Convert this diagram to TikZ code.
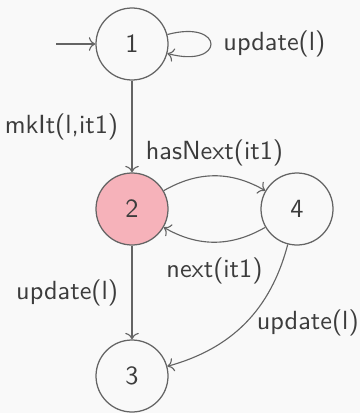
\documentclass[tikz,border=0pt]{standalone}
\usetikzlibrary{arrows.meta}
\definecolor{bgc}{RGB}{249,249,249}
\definecolor{pinkfill}{RGB}{246,178,186}
\definecolor{linec}{RGB}{100,100,100}
\definecolor{textc}{RGB}{60,60,60}
\tikzset{
  state/.style={circle,draw=linec,line width=0.5pt,minimum size=28.8pt,inner sep=0pt,text=textc,font=\sffamily\fontsize{10.5}{12}\selectfont},
  conn/.style={->,draw=linec,line width=0.45pt},
  lbl/.style={text=textc,font=\sffamily\fontsize{10.5}{12}\selectfont}
}
\begin{document}
\begin{tikzpicture}[x=0.4pt,y=-0.4pt]
\fill[bgc] (0,0) rectangle (360,413);
\useasboundingbox (0,0) rectangle (360,413);
\node[state] (n1) at (132,44) {1};
\node[state,fill=pinkfill] (n2) at (132,209) {2};
\node[state] (n4) at (297,209) {4};
\node[state] (n3) at (132,376) {3};
\coordinate (s) at (56,44);
\draw[conn] (s) -- (n1);
\draw[conn] (n1) to[out=15,in=-15,distance=24pt] node[lbl,right=1.5pt] {update(l)} (n1);
\draw[conn] (n1) -- node[lbl,left=2pt] {mkIt(l,it1)} (n2);
\draw[conn] (n2) to[bend left=30] node[lbl,above=0.5pt] {hasNext(it1)} (n4);
\draw[conn] (n4) to[bend left=30] node[lbl,below=2.5pt] {next(it1)} (n2);
\draw[conn] (n2) -- node[lbl,left=2pt] {update(l)} (n3);
\draw[conn] (n4) to[bend left=30] node[lbl,right=1pt] {update(l)} (n3);
\end{tikzpicture}
\end{document}
